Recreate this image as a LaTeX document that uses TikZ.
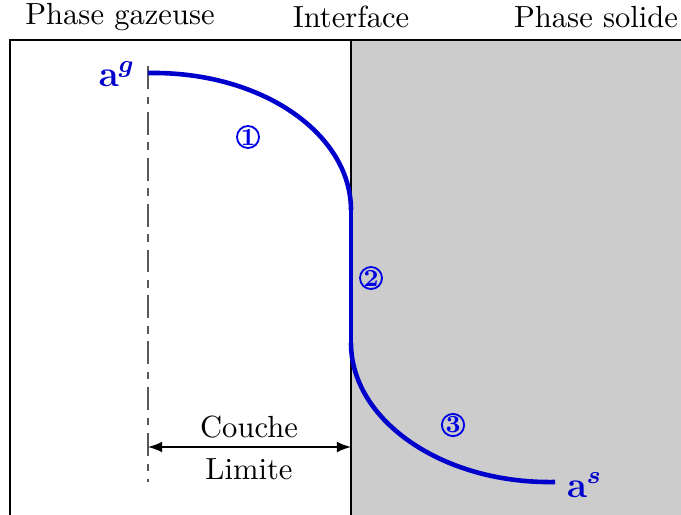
\documentclass[tikz,border=0pt]{standalone}
\usepackage{amsmath,bm}
\begin{document}
\begin{tikzpicture}[x=0.327pt,y=-0.327pt,
  profil/.style={line width=1.5pt,color=blue!80!black},
  repere/.style={blue!90!black,circle,draw,line width=0.6pt,inner sep=0pt,minimum size=7.2pt,font=\bfseries\footnotesize},
  axe/.style={gray!70!black,line width=0.7pt,dash pattern=on 7.5pt off 2.5pt on 2.5pt off 2.5pt}]
  \useasboundingbox (0,0) rectangle (681,514);
  % phase solide
  \fill[black!20] (351,40) rectangle (700,530);
  \draw[line width=0.9pt] (10,530) -- (10,40) -- (700,40);
  \draw[line width=0.9pt] (351,40) -- (351,530);
  % titres
  \node (gaz) at (120,17) {Phase gazeuse};
  \node (inter) at (351,17) {Interface};
  \node (sol) at (596,17) {Phase solide};
  % axe de la couche limite
  \coordinate (haut) at (148,66);
  \coordinate (bas) at (148,482);
  \draw[axe] (haut) -- (bas);
  % profil
  \coordinate (pg) at (148,73);
  \coordinate (i1) at (351,210);
  \coordinate (i2) at (351,343);
  \coordinate (ps) at (555,482);
  \draw[profil] (pg) .. controls (262,71) and (351,134) .. (i1);
  \draw[profil] (i1) -- (i2);
  \draw[profil] (i2) .. controls (351,420) and (442,484) .. (ps);
  \node[text=blue!80!black,anchor=east,font=\large] (lag) at (146,74) {$\mathbf{a}^{\bm{g}}$};
  \node[text=blue!80!black,anchor=west,font=\large] (las) at (556,485) {$\mathbf{a}^{\bm{s}}$};
  \node[repere] (r1) at (248,137) {1};
  \node[repere] (r2) at (371,278) {2};
  \node[repere] (r3) at (453,425) {3};
  % couche limite
  \coordinate (cg) at (148,447);
  \coordinate (cd) at (351,447);
  \draw[latex-latex,line width=0.6pt] (cg) -- (cd);
  \node (couche) at (249,427) {Couche};
  \node (limite) at (249,469) {Limite};
\end{tikzpicture}
\end{document}
